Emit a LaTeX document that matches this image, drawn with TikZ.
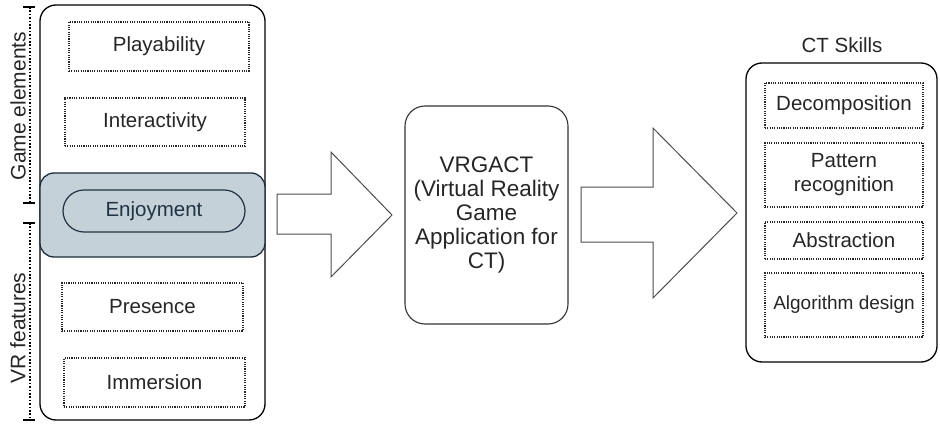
\documentclass[tikz,border=0pt]{standalone}
\usepackage{fontspec}
\setmainfont{Liberation Sans}
\definecolor{panelgray}{HTML}{C5D1D8}
\definecolor{slate}{HTML}{1F3342}
\begin{document}
\begin{tikzpicture}[x=1pt,y=-1pt,
  font=\fontsize{20.5}{24}\selectfont,
  outer/.style={draw=black, line width=1.3pt, rounded corners=16pt, inner sep=0pt},
  dotbox/.style={draw=black!85, line width=1.1pt, dash pattern=on 1.1pt off 1.2pt, inner sep=0pt, align=center, text=black!85},
  blockarrow/.style={draw=black!70, line width=1pt},
  axis/.style={draw=black, line width=1.1pt, dash pattern=on 1.6pt off 1.8pt},
  tick/.style={draw=black, line width=1.2pt},
  sidelabel/.style={rotate=90, text=black!85, font=\fontsize{21}{24}\selectfont}
]
\useasboundingbox (0,0) rectangle (940,425);

% left panel
\node[outer, minimum width=225pt, minimum height=415pt] (left) at (152.5,212.5) {};
\node[dotbox, minimum width=180pt, minimum height=49pt] (play) at (159,46.5) {Playability};
\node[dotbox, minimum width=180pt, minimum height=48pt] (inter) at (155,122) {Interactivity};
\node[draw=slate!90!black, line width=1.3pt, fill=panelgray, rounded corners=14pt, minimum width=225pt, minimum height=84pt, inner sep=0pt] (gray) at (152.5,215) {};
\node[draw=slate, line width=1.2pt, rounded corners=21pt, minimum width=182pt, minimum height=42pt, inner sep=0pt, text=slate] (enjoy) at (154,211) {Enjoyment};
\node[dotbox, minimum width=181pt, minimum height=48pt] (pres) at (152.5,307) {Presence};
\node[dotbox, minimum width=181pt, minimum height=49pt] (imm) at (154.5,382.5) {Immersion};

% side axis
\coordinate (a1) at (30,7);
\coordinate (a2) at (30,203);
\coordinate (a3) at (30,223);
\coordinate (a4) at (30,420);
\draw[axis] (a1) -- (a2);
\draw[axis] (a3) -- (a4);
\foreach \c in {a1,a2,a3,a4} \draw[tick] ([xshift=-7pt]\c) -- ([xshift=5pt]\c);
\node[sidelabel] (ge) at (18,106) {Game elements};
\node[sidelabel] (vr) at (18,328) {VR features};

% middle
\node[draw=black!80, line width=1.1pt, rounded corners=20pt, minimum width=163pt, minimum height=218pt, inner sep=0pt, align=center, text=black!85, font=\fontsize{22.5}{24}\selectfont] (mid) at (486.5,215) {VRGACT\\(Virtual Reality\\Game\\Application for\\CT)};

% block arrows
\draw[blockarrow] (277,194) -- (331,194) -- (331,152) -- (392,215) -- (331,277) -- (331,234) -- (277,234) -- cycle;
\draw[blockarrow] (581,187) -- (653,187) -- (653,128) -- (737,213) -- (653,298) -- (653,242) -- (581,242) -- cycle;

% right panel
\node[text=black!85] (ct) at (842,45) {CT Skills};
\node[outer, minimum width=191pt, minimum height=299pt] (right) at (841.5,212.5) {};
\node[dotbox, minimum width=158pt, minimum height=45pt] (dec) at (844,105.5) {Decomposition};
\node[dotbox, minimum width=158pt, minimum height=64pt] (pat) at (844,175) {Pattern\\recognition};
\node[dotbox, minimum width=158pt, minimum height=37pt] (abs) at (844,240.5) {Abstraction};
\node[dotbox, minimum width=158pt, minimum height=64pt, font=\fontsize{19}{24}\selectfont] (alg) at (844,305) {Algorithm design};
\end{tikzpicture}
\end{document}
